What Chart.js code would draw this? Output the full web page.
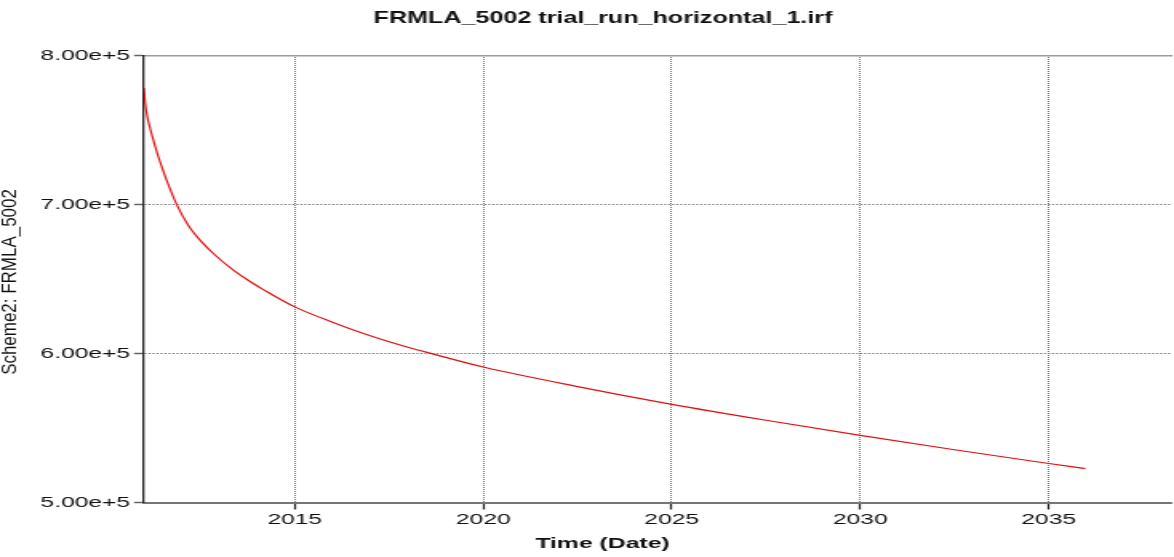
<!DOCTYPE html>
<html><head><meta charset="utf-8">
<script src="https://cdn.jsdelivr.net/npm/chart.js@4/dist/chart.umd.min.js"></script>
<style>
html,body{margin:0;padding:0;background:#fff;overflow:hidden;width:1174px;height:557px;}
#wrap{position:absolute;left:0;top:0;width:734px;height:557px;transform:scaleX(1.599455);transform-origin:0 0;}
</style></head><body>
<div id="wrap"><canvas id="c"></canvas></div>
<script>
const chartTitle = 'FRMLA_5002 trial_run_horizontal_1.irf';
const xTitle = 'Time (Date)';
const yTitle = 'Scheme2: FRMLA_5002';
const years = [2011.000, 2011.027, 2011.080, 2011.159, 2011.292, 2011.424, 2011.584, 2011.862, 2012.167, 2012.485, 2012.883, 2013.369, 2013.812, 2014.164, 2015.0, 2016.0, 2017.0, 2018.0, 2018.63, 2020.0, 2022.5, 2025.0, 2027.5, 2030.0, 2032.5, 2035.0, 2035.97];
const values = [778200, 769500, 759800, 751400, 739400, 728700, 717300, 700200, 686200, 676100, 666100, 656000, 648300, 642900, 631300, 621000, 611900, 604200, 599900, 590900, 577800, 565900, 555200, 545100, 535400, 526200, 522700];
const xTickValues = [2015, 2020, 2025, 2030, 2035];
const yTickValues = [500000, 600000, 700000, 800000];
const xMin = 2011.0, xMax = 2038.27;
const yMin = 500000, yMax = 800000;

const S = 1174 / 734; // horizontal stretch of the page
const FONT = "'Liberation Sans', Arial, sans-serif";

const textPlugin = {
  id: 'axisTitles',
  afterDraw(chart) {
    const ctx = chart.ctx;
    const ca = chart.chartArea;
    ctx.save();
    ctx.fillStyle = '#111';
    ctx.font = 'bold 15.5px ' + FONT;
    ctx.textAlign = 'center';
    ctx.textBaseline = 'middle';
    ctx.fillText(xTitle, 602.5 / S, 544);
    ctx.restore();

    ctx.save();
    ctx.fillStyle = '#111';
    ctx.translate(10.5 / S, (ca.top + ca.bottom) / 2 + 3);
    ctx.scale(1.3 / S, 1);
    ctx.rotate(-Math.PI / 2);
    ctx.scale(1.06, 1);
    ctx.font = '16px ' + FONT;
    ctx.textAlign = 'center';
    ctx.textBaseline = 'middle';
    ctx.fillText(yTitle, 0, 0);
    ctx.restore();
  }
};

new Chart(document.getElementById('c'), {
  type: 'line',
  data: {
    datasets: [{
      data: years.map((x, i) => ({x: x, y: values[i]})),
      borderColor: '#e01010',
      borderWidth: 1.2,
      pointRadius: 0,
      fill: false,
      cubicInterpolationMode: 'monotone'
    }]
  },
  options: {
    responsive: true,
    maintainAspectRatio: false,
    animation: false,
    layout: {padding: {left: 21.25, right: 1.25, top: 0, bottom: 0}},
    plugins: {
      legend: {display: false},
      tooltip: {enabled: false},
      title: {
        display: true,
        text: chartTitle,
        color: '#111',
        font: {family: FONT, size: 15.7, weight: 'bold'},
        padding: {top: 9.5, bottom: 27.16}
      }
    },
    scales: {
      x: {
        type: 'linear',
        position: 'bottom',
        min: xMin, max: xMax,
        afterBuildTicks: s => { s.ticks = xTickValues.map(v => ({value: v})); },
        afterFit: s => { s.height = 54.5; },
        ticks: {
          color: '#111',
          font: {family: FONT, size: 15.4},
          padding: 1.5,
          maxRotation: 0,
          autoSkip: false,
          callback: v => String(v)
        },
        grid: {
          color: '#555',
          lineWidth: 0.8,
          tickLength: 7,
          tickColor: '#222',
          tickWidth: 1.25
        },
        border: {display: true, color: '#777', width: 2, dash: [1, 1], dashOffset: 0.5}
      },
      x2: {
        type: 'linear',
        position: 'top',
        min: xMin, max: xMax,
        afterFit: s => { s.height = 0; },
        ticks: {display: false},
        grid: {display: false, drawTicks: false},
        border: {display: true, color: '#9a9a9a', width: 1.5}
      },
      y: {
        type: 'linear',
        position: 'left',
        min: yMin, max: yMax,
        afterBuildTicks: s => { s.ticks = yTickValues.map(v => ({value: v})); },
        afterFit: s => { s.width = 144 / S - 21.25; },
        ticks: {
          color: '#111',
          font: {family: FONT, size: 15.4},
          padding: 2.4,
          callback: v => Number(v).toExponential(2)
        },
        grid: {
          color: '#777',
          lineWidth: 1,
          tickLength: 6.25,
          tickColor: '#666',
          tickWidth: 1.5
        },
        border: {display: true, color: '#222', width: 1.3, dash: [1.25, 1.25]}
      }
    }
  },
  plugins: [textPlugin]
});
</script>
</body></html>
